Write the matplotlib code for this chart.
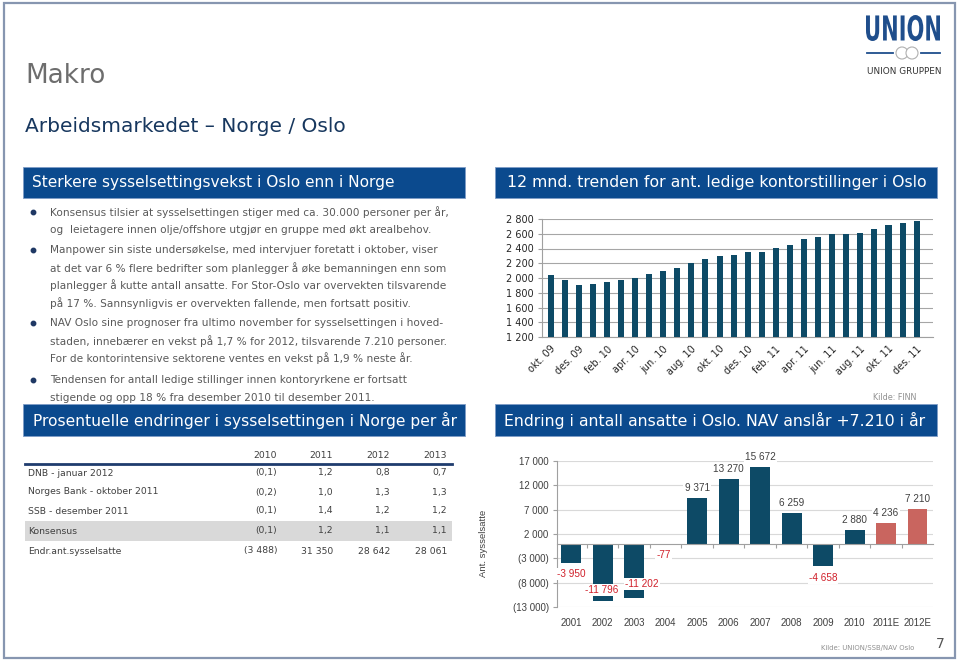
import matplotlib
matplotlib.use('Agg')
import matplotlib.pyplot as plt
import matplotlib.transforms as mtrans
from matplotlib.patches import Rectangle, Circle, PathPatch
from matplotlib.textpath import TextPath
from matplotlib.font_manager import FontProperties
from matplotlib.transforms import Affine2D
import numpy as np

plt.rcParams['font.family'] = ['DejaVu Sans']

# ---------------- data ----------------
months = ['okt. 09', 'nov. 09', 'des. 09', 'jan. 10', 'feb. 10', 'mar. 10', 'apr. 10',
          'mai. 10', 'jun. 10', 'jul. 10', 'aug. 10', 'sep. 10', 'okt. 10', 'nov. 10',
          'des. 10', 'jan. 11', 'feb. 11', 'mar. 11', 'apr. 11', 'mai. 11', 'jun. 11',
          'jul. 11', 'aug. 11', 'sep. 11', 'okt. 11', 'nov. 11', 'des. 11']
vacancies = [2040, 1975, 1900, 1925, 1940, 1975, 2005, 2052, 2093, 2130, 2206, 2255,
             2298, 2310, 2346, 2346, 2410, 2451, 2525, 2560, 2592, 2600, 2615, 2660,
             2718, 2752, 2768]
vac_yticks = [1200, 1400, 1600, 1800, 2000, 2200, 2400, 2600, 2800]

years = ['2001', '2002', '2003', '2004', '2005', '2006', '2007', '2008', '2009',
         '2010', '2011E', '2012E']
emp_change = [-3950, -11796, -11202, -77, 9371, 13270, 15672, 6259, -4658, 2880, 4236, 7210]
is_estimate = [False] * 10 + [True] * 2
emp_yticks = [-13000, -8000, -3000, 2000, 7000, 12000, 17000]

table_cols = ['2010', '2011', '2012', '2013']
table_rows = ['DNB - januar 2012', 'Norges Bank - oktober 2011', 'SSB - desember 2011',
              'Konsensus', 'Endr.ant.sysselsatte']
table_vals = [['(0,1)', '1,2', '0,8', '0,7'],
              ['(0,2)', '1,0', '1,3', '1,3'],
              ['(0,1)', '1,4', '1,2', '1,2'],
              ['(0,1)', '1,2', '1,1', '1,1'],
              ['(3 488)', '31 350', '28 642', '28 061']]

bullets = [
    ['Konsensus tilsier at sysselsettingen stiger med ca. 30.000 personer per år,',
     'og  leietagere innen olje/offshore utgjør en gruppe med økt arealbehov.'],
    ['Manpower sin siste undersøkelse, med intervjuer foretatt i oktober, viser',
     'at det var 6 % flere bedrifter som planlegger å øke bemanningen enn som',
     'planlegger å kutte antall ansatte. For Stor-Oslo var overvekten tilsvarende',
     'på 17 %. Sannsynligvis er overvekten fallende, men fortsatt positiv.'],
    ['NAV Oslo sine prognoser fra ultimo november for sysselsettingen i hoved-',
     'staden, innebærer en vekst på 1,7 % for 2012, tilsvarende 7.210 personer.',
     'For de kontorintensive sektorene ventes en vekst på 1,9 % neste år.'],
    ['Tendensen for antall ledige stillinger innen kontoryrkene er fortsatt',
     'stigende og opp 18 % fra desember 2010 til desember 2011.'],
]

# ---------------- style ----------------
HDR = '#0b4a8e'
BAR = '#0d4a66'
EST = '#c9655f'
NEG = '#d0202a'
TXT = '#595959'
DARK = '#404040'
NARROW = ['Liberation Sans', 'DejaVu Sans']

fig = plt.figure(figsize=(9.6, 6.61), dpi=100)
bg = fig.add_axes([0, 0, 1, 1], zorder=0)
bg.set_xlim(0, 960)
bg.set_ylim(661, 0)
bg.axis('off')
r = fig.canvas.get_renderer()


def fit(t, w):
    bb = t.get_window_extent(renderer=r)
    t.set_fontsize(t.get_fontsize() * w / bb.width)
    return t.get_fontsize()


# slide border
bg.add_patch(Rectangle((4, 3), 951, 655, facecolor='none', edgecolor='#8796b0', lw=1.6))

# titles
t = bg.text(25, 83, 'Makro', color='#6d6d6d', fontsize=20, va='baseline', ha='left')
fit(t, 80)
t = bg.text(25, 132, 'Arbeidsmarkedet – Norge / Oslo', color='#17375e', fontsize=14,
            va='baseline', ha='left')
fit(t, 322)


def header(x0, x1, y0, y1, text, tx, tw):
    bg.add_patch(Rectangle((x0, y0), x1 - x0, y1 - y0, facecolor=HDR,
                           edgecolor='#7f9cc6', lw=0.6))
    tt = bg.text(tx, (y0 + y1) / 2 + 0.5, text, color='white', fontsize=11,
                 va='center', ha='left')
    fit(tt, tw)


header(23, 465, 167, 198, 'Sterkere sysselsettingsvekst i Oslo enn i Norge', 32, 362)
header(495, 937, 167, 198, '12 mnd. trenden for ant. ledige kontorstillinger i Oslo', 507, 423)
header(23, 465, 404, 436, 'Prosentuelle endringer i sysselsettingen i Norge per år', 33, 424)
header(495, 937, 404, 436, 'Endring i antall ansatte i Oslo. NAV anslår +7.210 i år', 504, 423)

# logo
fp = FontProperties(family='DejaVu Sans', weight='bold')
tp = TextPath((0, 0), 'UNION', prop=fp, size=1)
ext = tp.get_extents()
lx0, lx1, ly0, ly1 = 866, 940, 15, 41
tr = (Affine2D().translate(-ext.x0, -ext.y0)
      .scale((lx1 - lx0) / ext.width, -(ly1 - ly0) / ext.height)
      .translate(lx0, ly1))
bg.add_patch(PathPatch(tr.transform_path(tp), facecolor='#1f4e8c', edgecolor='none'))
bg.plot([867, 893], [53, 53], color='#1f4e8c', lw=1.3)
bg.plot([921, 940], [53, 53], color='#1f4e8c', lw=1.3)
bg.add_patch(Circle((902, 53), 6, facecolor='white', edgecolor='#b0b0b0', lw=0.8))
bg.add_patch(Circle((912, 53), 6, facecolor='white', edgecolor='#b0b0b0', lw=0.8))
t = bg.text(904, 72, 'UNION GRUPPEN', color='#333333', fontsize=6, ha='center', va='center')
fit(t, 76)

# bullets
para_y = [212, 250, 323, 380]
line_h = 17.7
t = bg.text(50, para_y[0], bullets[0][0], color=TXT, fontsize=8, va='center', ha='left')
bsize = fit(t, 397)
for pi, (py, lines) in enumerate(zip(para_y, bullets)):
    bg.plot([33], [py], marker='o', markersize=3.2, color='#1f3864')
    for li, line in enumerate(lines):
        if pi == 0 and li == 0:
            continue
        bg.text(50, py + li * line_h, line, color=TXT, fontsize=bsize, va='center', ha='left')

# table
col_right = [277, 333, 390, 447]
hdr_y = 455
row_y = [473, 492, 511, 531, 551]
bg.add_patch(Rectangle((25, 521), 427, 20, facecolor='#d9d9d9', edgecolor='none'))
bg.plot([25, 452], [464, 464], color='#1f3c6e', lw=2)
t = bg.text(28, row_y[1], table_rows[1], color=DARK, fontsize=7, va='center', ha='left')
tsize = fit(t, 130)
for cx, c in zip(col_right, table_cols):
    bg.text(cx, hdr_y, c, color=DARK, fontsize=tsize, va='center', ha='right')
for ri, (ry, name, vals) in enumerate(zip(row_y, table_rows, table_vals)):
    if ri != 1:
        bg.text(28, ry, name, color=DARK, fontsize=tsize, va='center', ha='left')
    for cx, v in zip(col_right, vals):
        bg.text(cx, ry, v, color=DARK, fontsize=tsize, va='center', ha='right')

# ---------------- chart 1: vacancies ----------------
ax1 = fig.add_axes([542 / 960, 1 - 337 / 661, 391 / 960, 118 / 661], zorder=2)
x1 = np.arange(len(vacancies))
ax1.bar(x1, vacancies, width=0.43, color=BAR, zorder=3)
ax1.set_ylim(vac_yticks[0], vac_yticks[-1])
ax1.set_xlim(-0.61, len(vacancies) - 1 + 1.16)
ax1.set_yticks(vac_yticks)
ax1.set_yticklabels([f'{v:,}'.replace(',', ' ') for v in vac_yticks], fontsize=7, color='#262626')
ax1.set_xticks(x1[::2])
ax1.set_xticklabels(months[::2], rotation=45, ha='right', rotation_mode='anchor',
                    fontsize=7, color='#262626')
ax1.tick_params(axis='x', length=0, pad=5)
ax1.tick_params(axis='y', length=3, color='#a0a0a0', pad=3)
ax1.grid(axis='y', color='#a6a6a6', lw=0.8, zorder=0)
for s in ['top', 'right']:
    ax1.spines[s].set_visible(False)
for s in ['left', 'bottom']:
    ax1.spines[s].set_color('#a0a0a0')
    ax1.spines[s].set_linewidth(0.8)
ax1.set_facecolor('none')

t = bg.text(895, 397, 'Kilde: FINN', color='#909090', fontsize=5.5, ha='center', va='center')
fit(t, 44)

# ---------------- chart 2: employment change ----------------
ax2 = fig.add_axes([557 / 960, 1 - 607 / 661, 376 / 960, 146 / 661], zorder=2)
x2 = np.arange(len(emp_change))
colors = [EST if e else BAR for e in is_estimate]
ax2.bar(x2, emp_change, width=0.63, color=colors, zorder=3)
ax2.set_ylim(emp_yticks[0], emp_yticks[-1])
ax2.set_xlim(-0.45, len(emp_change) - 1 + 0.49)
ax2.set_yticks(emp_yticks)
ax2.set_yticklabels([f'{v:,}'.replace(',', ' ') if v >= 0 else f'({abs(v):,})'.replace(',', ' ')
                     for v in emp_yticks], fontsize=7, color=DARK, family=NARROW)
ax2.set_xticks(x2[:-1] + 0.5)
ax2.set_xticklabels([])
ax2.tick_params(axis='x', length=3, color='#a0a0a0')
ax2.tick_params(axis='y', length=3, color='#a0a0a0', pad=3)
ax2.grid(axis='y', color='#d9d9d9', lw=0.8, zorder=0)
for s in ['top', 'right']:
    ax2.spines[s].set_visible(False)
ax2.spines['bottom'].set_position(('data', 0))
for s in ['left', 'bottom']:
    ax2.spines[s].set_color('#a0a0a0')
    ax2.spines[s].set_linewidth(0.8)
ax2.spines['bottom'].set_zorder(4)
ax2.set_facecolor('none')
blend = mtrans.blended_transform_factory(ax2.transData, ax2.transAxes)
for xi, yr in zip(x2, years):
    ax2.text(xi, -0.11, yr, transform=blend, ha='center', va='center', fontsize=7,
             color=DARK, family=NARROW)

label_offset_px = [-11, 11, 14, -11, 10, 10, 10, 10, -11.5, 10, 10, 10]
label_dx_px = [0, -1, 8, -2, 0, 0, 0, 0, 0, 0, 0, 0]
for xi, v, off, dx in zip(x2, emp_change, label_offset_px, label_dx_px):
    ax2.annotate(f'{v:,}'.replace(',', ' '), (xi, v), xytext=(dx * 0.72, off * 0.72),
                 textcoords='offset points', ha='center', va='center', fontsize=7.2,
                 family=NARROW, color=NEG if v < 0 else DARK, zorder=5,
                 bbox=dict(facecolor='white', edgecolor='none', pad=0.8))

bg.text(483, 543, 'Ant. sysselsatte', rotation=90, fontsize=6.8, color=DARK,
        ha='center', va='center', family=NARROW)

t = bg.text(868, 648, 'Kilde: UNION/SSB/NAV Oslo', color='#909090', fontsize=5.5,
            ha='center', va='center')
fit(t, 93)
bg.text(940, 644, '7', color='#555555', fontsize=10, ha='center', va='center')

fig.savefig('out.png', dpi=100)
